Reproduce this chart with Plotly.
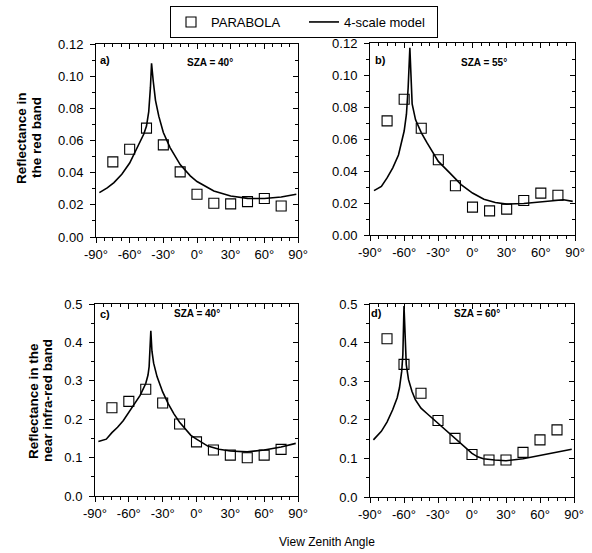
import plotly.graph_objects as go

# ---------------- data ----------------
vza_obs = [-75, -60, -45, -30, -15, 0, 15, 30, 45, 60, 75]

parabola_a = [0.0467, 0.0546, 0.0677, 0.0573, 0.0405, 0.0266, 0.0210, 0.0206, 0.0220, 0.0239, 0.0193]
parabola_b = [0.0713, 0.0848, 0.0667, 0.0470, 0.0308, 0.0174, 0.0151, 0.0162, 0.0216, 0.0262, 0.0248]
parabola_c = [0.2297, 0.2465, 0.2780, 0.2420, 0.1875, 0.1410, 0.1197, 0.1065, 0.0995, 0.1065, 0.1215]
parabola_d = [0.4100, 0.3435, 0.2687, 0.1980, 0.1520, 0.1100, 0.0957, 0.0957, 0.1157, 0.1480, 0.1740]

model_a_vza = [-87, -80, -74, -67, -60, -53, -47.4, -45, -43, -41.5, -40.5, -39, -37, -34, -30, -24, -15, -6, 0, 15, 30, 45, 60, 75, 88.5]
model_a_val = [0.0276, 0.0305, 0.0338, 0.0390, 0.046, 0.0556, 0.064, 0.069, 0.078, 0.093, 0.108, 0.097, 0.085, 0.075, 0.065, 0.0556, 0.045, 0.038, 0.0345, 0.0286, 0.0255, 0.024, 0.0239, 0.0249, 0.0266]

model_b_vza = [-86.5, -80, -75, -70, -65, -62, -60, -58, -56.5, -55, -54, -53, -50, -45, -40, -35, -30, -20, -15, -10, 0, 10, 20, 30, 45, 60, 75, 80, 88]
model_b_val = [0.0277, 0.0304, 0.0357, 0.042, 0.050, 0.0587, 0.065, 0.0755, 0.092, 0.117, 0.092, 0.082, 0.072, 0.064, 0.0577, 0.0514, 0.046, 0.0388, 0.035, 0.0315, 0.0262, 0.0224, 0.0203, 0.0193, 0.0197, 0.0206, 0.0218, 0.0220, 0.0210]

model_c_vza = [-87, -80, -75, -70, -65, -60, -55, -50, -45, -43, -42, -41, -40.5, -39.5, -38, -35, -30, -25, -20, -15, -10, -5, 0, 10, 20, 30, 45, 60, 75, 88]
model_c_val = [0.142, 0.148, 0.165, 0.179, 0.196, 0.218, 0.240, 0.262, 0.293, 0.315, 0.337, 0.386, 0.430, 0.377, 0.346, 0.311, 0.271, 0.240, 0.214, 0.192, 0.174, 0.158, 0.148, 0.130, 0.1215, 0.117, 0.115, 0.120, 0.1276, 0.137]

model_d_vza = [-87, -80, -75, -70, -66, -64, -62, -61, -60, -59, -58, -56, -53, -50, -45, -40, -30, -20, -15, -10, -5, 0, 5, 10, 20, 30, 45, 60, 75, 88]
model_d_val = [0.148, 0.170, 0.194, 0.226, 0.257, 0.283, 0.326, 0.370, 0.495, 0.387, 0.343, 0.304, 0.274, 0.252, 0.230, 0.217, 0.191, 0.165, 0.152, 0.137, 0.124, 0.113, 0.104, 0.099, 0.0957, 0.094, 0.099, 0.107, 0.115, 0.1235]

x_tickvals = [-90, -60, -30, 0, 30, 60, 90]
x_ticktext = ["-90°", "-60°", "-30°", "0°", "30°", "60°", "90°"]

panel_labels = ["a)", "b)", "c)", "d)"]
sza_labels = ["SZA = 40°", "SZA = 55°", "SZA = 40°", "SZA = 60°"]

# ---------------- layout geometry (pixels) ----------------
W, H = 592, 553
FONT = "Liberation Sans, Arial, sans-serif"

def px_x(a, b):
    return [a / W, b / W]

def px_y(top, bottom):
    return [(H - bottom) / H, (H - top) / H]

panels = [
    dict(xd=px_x(96, 298), yd=px_y(44, 237), rng=[0, 0.12], dt=0.02, fmt=".2f",
         obs=parabola_a, mx=model_a_vza, my=model_a_val),
    dict(xd=px_x(370, 575), yd=px_y(43, 235), rng=[0, 0.12], dt=0.02, fmt=".2f",
         obs=parabola_b, mx=model_b_vza, my=model_b_val),
    dict(xd=px_x(95, 298), yd=px_y(304, 496), rng=[0, 0.5], dt=0.1, fmt=".1f",
         obs=parabola_c, mx=model_c_vza, my=model_c_val),
    dict(xd=px_x(370, 574), yd=px_y(304, 497), rng=[0, 0.5], dt=0.1, fmt=".1f",
         obs=parabola_d, mx=model_d_vza, my=model_d_val),
]

fig = go.Figure()
layout = {}
tickfont = dict(family=FONT, size=13, color="black")

for i, p in enumerate(panels):
    n = i + 1
    xa = f"x{n}" if n > 1 else "x"
    ya = f"y{n}" if n > 1 else "y"
    xk = f"xaxis{n}" if n > 1 else "xaxis"
    yk = f"yaxis{n}" if n > 1 else "yaxis"
    # overlay axes (top / right) carrying inside ticks
    xt = f"x{n + 4}"
    yt = f"y{n + 4}"

    fig.add_trace(go.Scatter(
        x=p["mx"], y=p["my"], mode="lines", name="4-scale model",
        line=dict(color="black", width=1.6), xaxis=xt, yaxis=yt,
        showlegend=(i == 0), legendrank=2))
    fig.add_trace(go.Scatter(
        x=vza_obs, y=p["obs"], mode="markers", name="PARABOLA",
        marker=dict(symbol="square-open", size=10, color="black", line=dict(width=1.1)),
        xaxis=xa, yaxis=ya, showlegend=(i == 0), legendrank=1))

    layout[xk] = dict(domain=p["xd"], anchor=ya, range=[-90, 90],
                      tickmode="array", tickvals=x_tickvals, ticktext=x_ticktext,
                      ticks="outside", ticklen=5, tickwidth=1, tickcolor="black",
                      minor=dict(ticks="outside", ticklen=3, tick0=-90, dtick=7.5, tickcolor="black"),
                      showline=True, linecolor="black", linewidth=1, mirror=True,
                      showgrid=False, zeroline=False, tickfont=tickfont)
    layout[yk] = dict(domain=p["yd"], anchor=xa, range=p["rng"], dtick=p["dt"], tick0=0,
                      tickformat=p["fmt"],
                      ticks="outside", ticklen=5, tickwidth=1, tickcolor="black",
                      minor=dict(ticks="outside", ticklen=3, tick0=0, dtick=p["dt"] / 2, tickcolor="black"),
                      showline=True, linecolor="black", linewidth=1, mirror=True,
                      showgrid=False, zeroline=False, tickfont=tickfont, ticklabelstandoff=4)
    layout[f"xaxis{n + 4}"] = dict(overlaying=xa, anchor=yt, side="top", range=[-90, 90],
                                   tickmode="array", tickvals=x_tickvals, showticklabels=False,
                                   ticks="inside", ticklen=5, tickcolor="black",
                                   minor=dict(ticks="inside", ticklen=3, tick0=-90, dtick=7.5, tickcolor="black"),
                                   showline=False, showgrid=False, zeroline=False)
    layout[f"yaxis{n + 4}"] = dict(overlaying=ya, anchor=xt, side="right", range=p["rng"],
                                   dtick=p["dt"], tick0=0, showticklabels=False,
                                   ticks="inside", ticklen=5, tickcolor="black",
                                   minor=dict(ticks="inside", ticklen=3, tick0=0, dtick=p["dt"] / 2, tickcolor="black"),
                                   showline=False, showgrid=False, zeroline=False)

annotations = []
lab_pos = [(105, 60), (380, 60), (105, 314), (376, 313)]
sza_pos = [(210, 63), (484, 63), (197, 313), (477, 313)]
for i in range(4):
    lx, ly = lab_pos[i]
    sx, sy = sza_pos[i]
    annotations.append(dict(x=lx / W, y=1 - ly / H, xref="paper", yref="paper",
                            text=f"<b>{panel_labels[i]}</b>", showarrow=False,
                            font=dict(family=FONT, size=11, color="black"),
                            xanchor="center", yanchor="middle"))
    annotations.append(dict(x=sx / W, y=1 - sy / H, xref="paper", yref="paper",
                            text=f"<b>{sza_labels[i]}</b>", showarrow=False,
                            font=dict(family=FONT, size=10, color="black"),
                            xanchor="center", yanchor="middle"))

ytitles = [
    (["Reflectance in", "the red band"], [22, 37], 138),
    (["Reflectance in the", "near infra-red band"], [33, 47], 401),
]
for lines, xs, yc in ytitles:
    for t, xx in zip(lines, xs):
        annotations.append(dict(x=xx / W, y=1 - yc / H, xref="paper", yref="paper",
                                text=f"<b>{t}</b>", showarrow=False, textangle=-90,
                                font=dict(family=FONT, size=13.5, color="black"),
                                xanchor="center", yanchor="middle"))

annotations.append(dict(x=327 / W, y=1 - 542 / H, xref="paper", yref="paper",
                        text="View Zenith Angle", showarrow=False,
                        font=dict(family=FONT, size=12, color="black"),
                        xanchor="center", yanchor="middle"))

layout["annotations"] = annotations
layout["legend"] = dict(orientation="h", x=170 / W, xanchor="left", y=1 - 6 / H, yanchor="top",
                        bordercolor="black", borderwidth=1, bgcolor="white",
                        font=dict(family=FONT, size=13, color="black"),
                        traceorder="normal", entrywidth=88, entrywidthmode="pixels")
layout["width"] = W
layout["height"] = H
layout["margin"] = dict(l=0, r=0, t=0, b=0, autoexpand=False)
layout["paper_bgcolor"] = "white"
layout["plot_bgcolor"] = "white"
layout["showlegend"] = True
layout["font"] = dict(family=FONT, color="black")

fig.update_layout(**layout)
fig.write_html("out.html",
               config={"displayModeBar": False},
               post_script="document.body.style.margin='0';document.body.style.padding='0';")
